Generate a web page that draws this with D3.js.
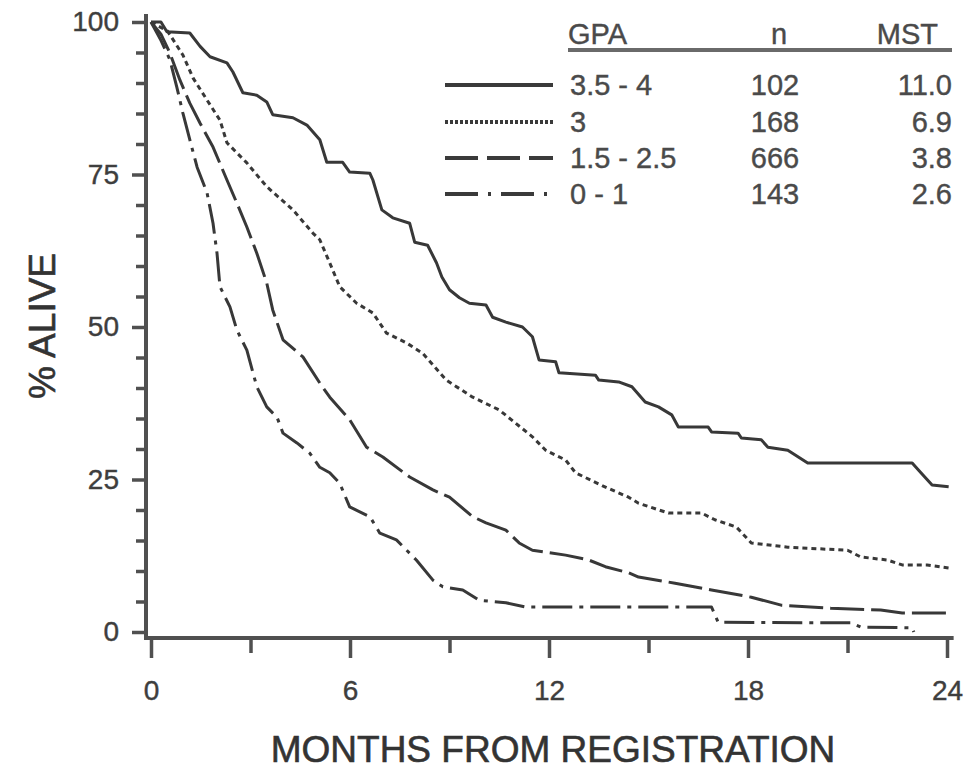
<!DOCTYPE html>
<html>
<head>
<meta charset="utf-8">
<script src="https://cdn.jsdelivr.net/npm/d3@7"></script>
<style>
  body { margin: 0; background: #fff; }
  svg { display: block; font-family: "Liberation Sans", Arial, sans-serif; }
  .axis text { fill: #3e3e3e; font-size: 28px; stroke: #3e3e3e; stroke-width: 0.4px; }
  .axis line { stroke: #505050; stroke-width: 3.5px; }
</style>
</head>
<body>
<svg width="971" height="769"></svg>
<script>
var gpaLabels = ["3.5 - 4", "3", "1.5 - 2.5", "0 - 1"];
var nValues = ["102", "168", "666", "143"];
var mstValues = ["11.0", "6.9", "3.8", "2.6"];

var months1 = [0, 0.3, 0.48, 1.17, 1.48, 1.78, 2.29, 2.47, 2.77, 3.19, 3.49, 3.67, 4.28, 4.7, 5.09, 5.3, 5.78, 5.99, 6.6, 6.69, 6.96, 7.29, 7.8, 7.95, 8.34, 8.61, 8.77, 9.0, 9.3, 9.6, 10.1, 10.3, 10.7, 11.2, 11.5, 11.7, 12.2, 12.3, 13.4, 13.5, 14.1, 14.5, 14.9, 15.3, 15.7, 15.9, 16.8, 16.9, 17.7, 17.8, 18.4, 18.6, 19.2, 19.8, 22.95, 23.2, 23.55, 24.05];
var alive1  = [100, 100, 98.4, 98.2, 96, 94.3, 93.3, 91.8, 88.4, 88, 86.9, 84.8, 84.3, 83.1, 80.7, 77, 77, 75.4, 75.2, 74.1, 69.2, 67.9, 67, 63.9, 63.4, 60.5, 58.2, 56.1, 54.8, 53.9, 53.6, 51.6, 50.8, 50, 48.4, 44.6, 44.3, 42.5, 42.1, 41.3, 41, 40.2, 37.7, 36.9, 35.6, 33.6, 33.6, 32.8, 32.6, 31.8, 31.5, 30.3, 29.8, 27.7, 27.7, 26.2, 24.1, 23.8];

var months2 = [0, 0.5, 0.96, 1.27, 1.69, 2.08, 2.29, 2.89, 3.49, 4.28, 4.88, 5.09, 5.39, 5.69, 6.2, 6.69, 7.1, 7.7, 8.19, 8.9, 9.7, 10.5, 11.5, 11.9, 12.5, 12.8, 13.6, 14.4, 14.7, 15.6, 16.6, 17.0, 17.65, 18.1, 19.2, 21.0, 21.4, 22.2, 22.65, 23.4, 24.05];
var alive2  = [100, 98.5, 94.6, 90.8, 87.2, 83.9, 80.2, 76.9, 73, 69.2, 65.4, 64.3, 60.5, 56.6, 53.9, 52.3, 49, 47.4, 45.7, 41.3, 38.5, 36.4, 32, 29.8, 28.2, 26.1, 24, 22.1, 21.1, 19.5, 19.5, 18.4, 17.2, 14.6, 13.9, 13.4, 12.3, 11.8, 11, 11, 10.5];

var months3 = [0, 0.3, 0.57, 0.87, 1.17, 1.48, 1.87, 2.29, 2.59, 2.89, 3.19, 3.49, 3.67, 3.98, 4.58, 5.09, 5.39, 5.99, 6.5, 6.99, 7.8, 8.5, 9.0, 9.7, 10.1, 10.7, 11.1, 11.5, 12.5, 13.2, 13.7, 14.4, 14.7, 15.8, 16.9, 18.1, 19.0, 20.5, 22.0, 22.65, 24.05];
var alive3  = [100, 98, 94.9, 90.5, 86.7, 83.4, 79.5, 74.1, 70.3, 66.4, 62.1, 57.2, 52.8, 47.9, 45.1, 40.8, 38.5, 34.8, 30.3, 28.7, 25.4, 23.3, 22.1, 18.9, 17.9, 16.7, 14.6, 13.4, 12.6, 11.8, 10.7, 9.7, 9.0, 8.0, 6.9, 5.7, 4.4, 3.9, 3.6, 3.1, 3.1];

var months4 = [0, 0.3, 0.57, 0.78, 0.96, 1.17, 1.39, 1.69, 1.87, 1.99, 2.08, 2.38, 2.59, 2.89, 3.19, 3.49, 3.8, 3.98, 4.4, 4.79, 5.09, 5.39, 5.69, 5.99, 6.6, 6.9, 7.4, 8.0, 8.5, 8.8, 9.4, 9.9, 10.7, 11.3, 16.9, 17.1, 21.1, 21.4, 22.95, 23.0];
var alive4  = [100, 97, 93.8, 89.3, 85.1, 80.7, 76.2, 72, 67, 62.1, 56.6, 53.3, 49.5, 46.2, 40.2, 36.9, 35.2, 32.6, 31, 29.3, 27, 26.1, 24.4, 20.5, 18.9, 16.2, 15.1, 11.8, 8.5, 7.4, 6.9, 5.2, 4.8, 4.1, 4.1, 1.6, 1.5, 0.8, 0.7, 0];

var xMajor = [0, 6, 12, 18, 24], xMinor = [3, 9, 15, 21];
var yMajor = [0, 25, 50, 75, 100], yMinor = [5, 10, 15, 20, 30, 35, 40, 45, 55, 60, 65, 70, 80, 85, 90, 95];

var series = [
  {months: months1, alive: alive1, dash: null, keyDash: null},
  {months: months2, alive: alive2, dash: "5,4", keyDash: "3,2"},
  {months: months3, alive: alive3, dash: "34,7", keyDash: "33,9"},
  {months: months4, alive: alive4, dash: "30,7,4,7", keyDash: "33,10,3,10"}
];

var svg = d3.select("svg");

var x = d3.scaleLinear().domain([0, 24]).range([151, 947]),
    y = d3.scaleLinear().domain([0, 100]).range([632, 22]);

var axisX = 146, axisY = 638;

// y axis
var gy = svg.append("g").attr("class", "axis").attr("transform", "translate(" + axisX + ",0)");
gy.call(d3.axisLeft(y).tickValues(yMajor).tickSize(14).tickPadding(13));
gy.append("g").call(d3.axisLeft(y).tickValues(yMinor).tickSize(10).tickFormat(""));
gy.selectAll(".domain").remove();
svg.append("line")
    .attr("x1", axisX).attr("x2", axisX)
    .attr("y1", y(101.3)).attr("y2", axisY + 2)
    .attr("stroke", "#505050").attr("stroke-width", 4);

// x axis
var gx = svg.append("g").attr("class", "axis").attr("transform", "translate(0," + axisY + ")");
gx.call(d3.axisBottom(x).tickValues(xMajor).tickSize(20).tickPadding(22));
gx.append("g").call(d3.axisBottom(x).tickValues(xMinor).tickSize(15).tickFormat(""));
gx.selectAll(".domain").remove();
svg.append("line")
    .attr("x1", axisX - 2).attr("x2", x(24.2))
    .attr("y1", axisY).attr("y2", axisY)
    .attr("stroke", "#505050").attr("stroke-width", 4);

// titles
svg.append("text")
    .attr("x", 553).attr("y", 762)
    .attr("text-anchor", "middle")
    .style("font-size", "37px").style("fill", "#333").style("stroke", "#333").style("stroke-width", "0.6px")
    .text("MONTHS FROM REGISTRATION");

svg.append("text")
    .attr("transform", "translate(55,326) rotate(-90)")
    .attr("text-anchor", "middle")
    .style("font-size", "37px").style("fill", "#333").style("stroke", "#333").style("stroke-width", "0.6px")
    .text("% ALIVE");

// curves
var line = d3.line()
    .x(function(d) { return x(d[0]); })
    .y(function(d) { return y(d[1]); });

series.forEach(function(s) {
  var pts = s.months.map(function(m, i) { return [m, s.alive[i]]; });
  svg.append("path")
      .datum(pts)
      .attr("d", line)
      .attr("fill", "none")
      .attr("stroke", "#383838")
      .attr("stroke-width", 3)
      .attr("stroke-linejoin", "round")
      .attr("stroke-dasharray", s.dash);
});

// legend table
var legend = svg.append("g").style("font-size", "29px").style("fill", "#4a4a4a")
    .style("stroke", "#4a4a4a").style("stroke-width", "0.4px");
legend.append("text").attr("x", 568).attr("y", 44).text("GPA");
legend.append("text").attr("x", 779).attr("y", 44).attr("text-anchor", "middle").text("n");
legend.append("text").attr("x", 938).attr("y", 44).attr("text-anchor", "end").text("MST");
legend.append("line")
    .attr("x1", 568).attr("x2", 952).attr("y1", 50).attr("y2", 50)
    .attr("stroke", "#6a6a6a").attr("stroke-width", 4);

var rowY = [85, 122, 158, 194];
series.forEach(function(s, i) {
  legend.append("line")
      .attr("x1", 445).attr("x2", 553)
      .attr("y1", rowY[i]).attr("y2", rowY[i])
      .attr("stroke", "#3a3a3a").attr("stroke-width", 4)
      .attr("stroke-dasharray", s.keyDash);
  legend.append("text").attr("x", 570).attr("y", rowY[i] + 10).text(gpaLabels[i]);
  legend.append("text").attr("x", 775).attr("y", rowY[i] + 10).attr("text-anchor", "middle").text(nValues[i]);
  legend.append("text").attr("x", 952).attr("y", rowY[i] + 10).attr("text-anchor", "end").text(mstValues[i]);
});
</script>
</body>
</html>
